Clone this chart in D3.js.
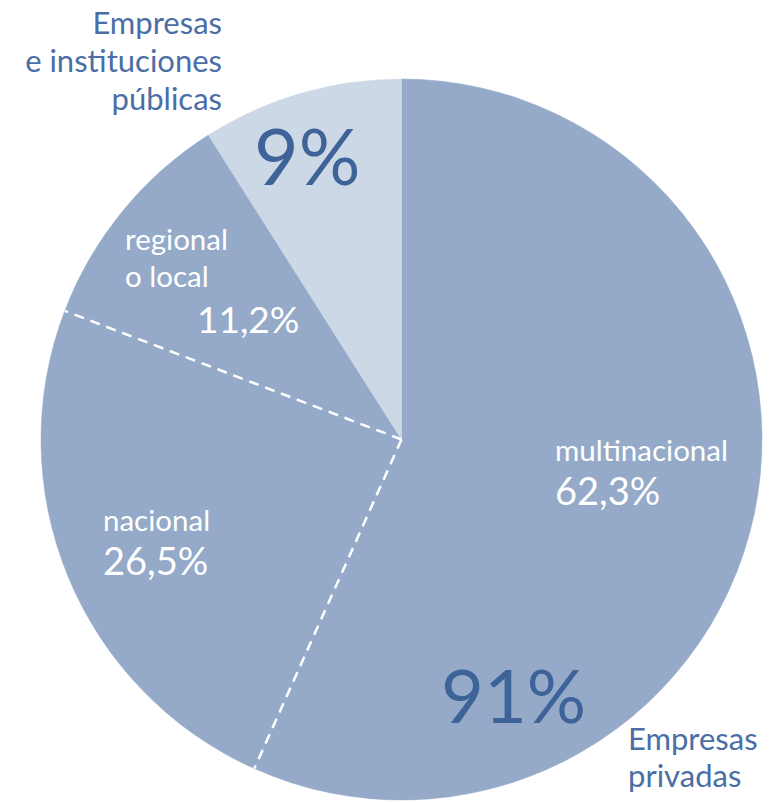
<!DOCTYPE html>
<html>
<head>
<meta charset="utf-8">
<script src="https://cdn.jsdelivr.net/npm/d3@7"></script>
<style>
  html, body { margin: 0; padding: 0; background: #ffffff; }
  svg { display: block; }
  text { font-family: Lato, "Open Sans", sans-serif; }
</style>
</head>
<body>
<svg id="chart" width="778" height="803"></svg>
<script>
// Data
const groups = ["Empresas privadas", "Empresas e instituciones públicas"];
const groupValues = [91, 9];
const privateCategories = ["multinacional", "nacional", "regional o local"];
const privateShares = [62.3, 26.5, 11.2];
const privateLabels = ["62,3%", "26,5%", "11,2%"];
const groupLabels = ["91%", "9%"];

const width = 778, height = 803;
const cx = 401.5, cy = 439.5, R = 360.5;

const colPrivate = "#94aac8";
const colPublic = "#cdd8e6";
const colDark = "#3d6399";
const colOuter = "#4a6ea5";

const svg = d3.select("#chart");
const g = svg.append("g").attr("transform", `translate(${cx},${cy})`);

// Build slices: private sub-categories (share of 91%) followed by public
const slices = privateCategories.map((c, i) => ({
  name: c, value: privateShares[i] * groupValues[0] / 100, group: 0
})).concat([{ name: groups[1], value: groupValues[1], group: 1 }]);

const pie = d3.pie().sort(null).value(d => d.value).startAngle(0).endAngle(2 * Math.PI);
const arcs = pie(slices);
const arc = d3.arc().innerRadius(0).outerRadius(R);

g.selectAll("path.slice")
  .data(arcs)
  .join("path")
  .attr("class", "slice")
  .attr("d", arc)
  .attr("fill", d => d.data.group === 0 ? colPrivate : colPublic)
  .attr("stroke", d => d.data.group === 0 ? colPrivate : colPublic)
  .attr("stroke-width", 0.5);

// Dashed separators between private sub-categories
const seps = arcs.filter(d => d.data.group === 0).slice(0, -1).map(d => d.endAngle);
g.selectAll("line.sep")
  .data(seps)
  .join("line")
  .attr("class", "sep")
  .attr("x1", 0).attr("y1", 0)
  .attr("x2", a => Math.sin(a) * R)
  .attr("y2", a => -Math.cos(a) * R)
  .attr("stroke", "#ffffff")
  .attr("stroke-width", 2.5)
  .attr("stroke-dasharray", "10,7");

// One text element per label block, lines as tspans
function block(x, y0, items, opts) {
  const t = svg.append("text")
    .attr("x", x).attr("y", y0)
    .attr("fill", opts.fill)
    .attr("text-anchor", opts.anchor || "start");
  let y = y0;
  items.forEach((it, i) => {
    if (i > 0) y += it.dy;
    t.append("tspan")
      .attr("x", x).attr("y", y)
      .attr("font-size", it.size)
      .text(it.text);
  });
}

// multinacional
block(555, 461, [{ text: privateCategories[0], size: 29.5 }, { text: privateLabels[0], size: 38, dy: 44 }], { fill: "#ffffff" });
// nacional
block(103, 531, [{ text: privateCategories[1], size: 29.5 }, { text: privateLabels[1], size: 38, dy: 44 }], { fill: "#ffffff" });
// regional o local
block(125, 250, [{ text: "regional", size: 29.5 }, { text: "o local", size: 29.5, dy: 37 }], { fill: "#ffffff" });
block(197, 333, [{ text: privateLabels[2], size: 37 }], { fill: "#ffffff" });

// Group percentages
block(441, 723, [{ text: groupLabels[0], size: 74 }], { fill: colDark });
block(254, 185, [{ text: groupLabels[1], size: 77 }], { fill: colDark });

// Outer group labels
block(222, 34, [{ text: "Empresas", size: 31 }, { text: "e instituciones", size: 31, dy: 38 }, { text: "públicas", size: 31, dy: 38 }], { fill: colOuter, anchor: "end" });
block(628, 750, [{ text: "Empresas", size: 31 }, { text: "privadas", size: 31, dy: 37 }], { fill: colOuter });
</script>
</body>
</html>
